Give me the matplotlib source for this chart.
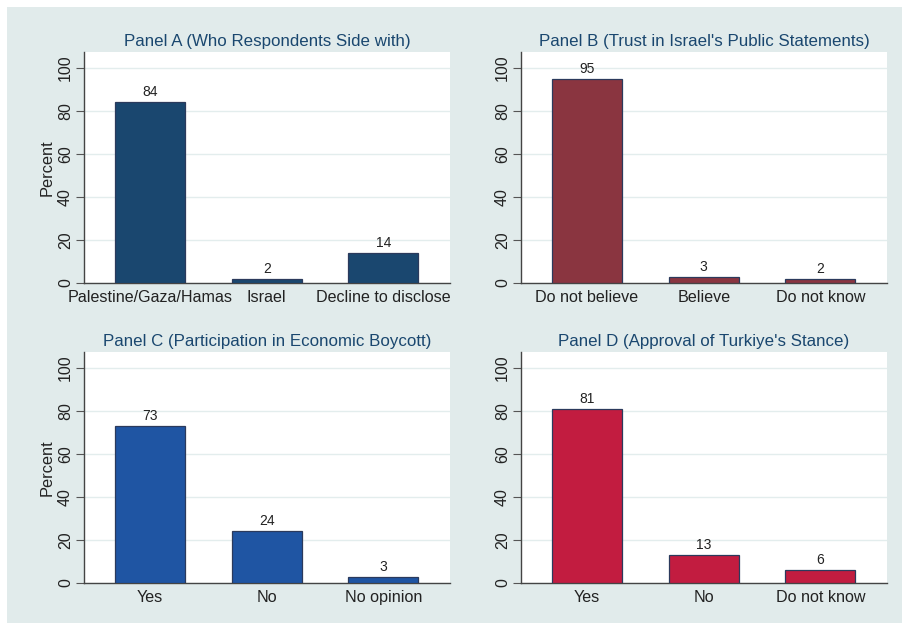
import numpy as np
import matplotlib
matplotlib.use("Agg")
from matplotlib import pyplot as plt

plt.rcParams['font.family'] = ['Liberation Sans', 'DejaVu Sans']

# survey shares (percent) for each panel
cats_a = ["Palestine/Gaza/Hamas", "Israel", "Decline to disclose"]
vals_a = [84, 2, 14]
cats_b = ["Do not believe", "Believe", "Do not know"]
vals_b = [95, 3, 2]
cats_c = ["Yes", "No", "No opinion"]
vals_c = [73, 24, 3]
cats_d = ["Yes", "No", "Do not know"]
vals_d = [81, 13, 6]

titles = ["Panel A (Who Respondents Side with)",
          "Panel B (Trust in Israel's Public Statements)",
          "Panel C (Participation in Economic Boycott)",
          "Panel D (Approval of Turkiye's Stance)"]
colors = ["#1a476f", "#8a3540", "#1f55a3", "#c21c40"]
yticks = [0, 20, 40, 60, 80, 100]

W, H = 902, 623
bg = "#e1ebeb"
fig = plt.figure(figsize=(W / 100, H / 100), dpi=100)
fig.patch.set_facecolor("white")
# shaded graph region, white strip at top and left
fig.add_artist(plt.Rectangle((7 / W, 0), 1 - 7 / W, 1 - 7 / H,
                             transform=fig.transFigure, facecolor=bg,
                             edgecolor="none", zorder=0))

# plot regions in pixels: left, right, top, bottom
boxes = [(84, 450, 52, 283), (521, 887, 52, 283),
         (84, 450, 352, 583), (521, 887, 352, 583)]
data = [(cats_a, vals_a), (cats_b, vals_b), (cats_c, vals_c), (cats_d, vals_d)]

for i, ((l, r, t, b), (cats, vals)) in enumerate(zip(boxes, data)):
    ax = fig.add_axes([l / W, 1 - b / H, (r - l) / W, (b - t) / H])
    ax.set_facecolor("white")
    x = np.arange(len(cats))
    ax.bar(x, vals, width=0.6, color=colors[i], edgecolor="#2b3a5c",
           linewidth=0.9, zorder=3)
    for xi, v in zip(x, vals):
        ax.text(xi, v + 1.4, str(v), ha="center", va="bottom", fontsize=10,
                color="#222222", zorder=4)
    ax.set_xlim(-0.566, 2.57)
    ax.set_ylim(0, 107.4)
    ax.set_yticks(yticks)
    ax.set_yticklabels([str(v) for v in yticks], rotation=90, va="center",
                       fontsize=11.5, color="#222222")
    ax.set_xticks(x)
    ax.set_xticklabels(cats, fontsize=11.6, color="#222222")
    ax.tick_params(axis="x", length=0, pad=5)
    ax.tick_params(axis="y", length=6, width=0.8, color="#555555", pad=2)
    ax.grid(axis="y", color="#e3eded", linewidth=1.0, zorder=0)
    ax.set_axisbelow(True)
    for s in ["top", "right"]:
        ax.spines[s].set_visible(False)
    for s in ["left", "bottom"]:
        ax.spines[s].set_color("#444444")
        ax.spines[s].set_linewidth(1.0)
    ax.set_title(titles[i], fontsize=12.2, color="#1a476f", pad=4)
    if i % 2 == 0:
        ax.set_ylabel("Percent", fontsize=11.8, color="#222222", labelpad=2)

fig.savefig("out.png", dpi=100, facecolor=fig.get_facecolor())
